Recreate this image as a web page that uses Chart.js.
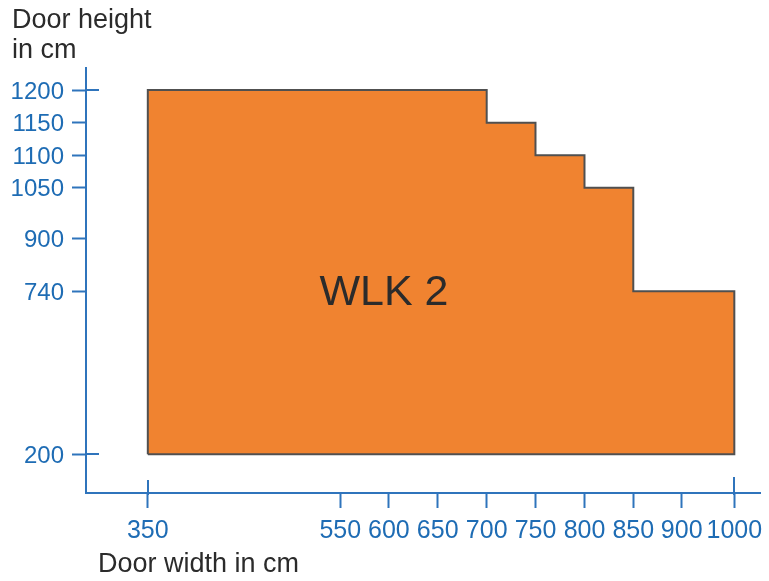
<!DOCTYPE html>
<html>
<head>
<meta charset="utf-8">
<script src="https://cdn.jsdelivr.net/npm/chart.js@4/dist/chart.umd.min.js"></script>
<style>
  html, body { margin: 0; padding: 0; background: #ffffff; }
  canvas { display: block; }
</style>
</head>
<body>
<canvas id="c" width="769" height="581"></canvas>
<script>
// ---------- data ----------
const stepWidths  = [350, 700, 750, 800, 850, 1000];   // door width band boundaries (cm)
const stepHeights = [1200, 1150, 1100, 1050, 740];      // max door height within each band (cm)
const baseHeight  = 200;                                // minimum door height (cm)
const xTickValues = [350, 550, 600, 650, 700, 750, 800, 850, 900, 1000];
const yTickValues = [200, 740, 900, 1050, 1100, 1150, 1200];
const seriesLabel = 'WLK 2';
const seriesLabelAt = { x: 595, y: 740 };
const xTitle = 'Door width in cm';
const yTitle = ['Door height', 'in cm'];

// The original axes are not drawn to scale: value -> fraction of the axis length.
const xAxisMap = [[350, 0.0917], [550, 0.3772], [600, 0.4493], [650, 0.5218], [700, 0.5945],
                  [750, 0.6669], [800, 0.7396], [850, 0.8120], [900, 0.8838], [1000, 0.9619]];
const yAxisMap = [[200, 0.0911], [740, 0.4748], [900, 0.5988], [1050, 0.7184],
                  [1100, 0.7948], [1150, 0.8713], [1200, 0.9482]];

// ---------- styles ----------
const FONT = '"Liberation Sans", Arial, Helvetica, sans-serif';
const axisColor = '#2f74bc';
const tickLabelColor = '#1e6cb4';
const textColor = '#2b2b2b';
const fillColor = '#F08330';
const edgeColor = '#505050';

// ---------- outline of the area built from the data ----------
const outline = [{ x: stepWidths[0], y: baseHeight }];
stepHeights.forEach((h, i) => {
  outline.push({ x: stepWidths[i], y: h });
  outline.push({ x: stepWidths[i + 1], y: h });
});
outline.push({ x: stepWidths[stepWidths.length - 1], y: baseHeight });
outline.push({ x: stepWidths[0], y: baseHeight });

// ---------- piecewise-linear scale ----------
const AXIS_MAPS = { x: xAxisMap, y: yAxisMap };
const AXIS_TICKS = { x: xTickValues, y: yTickValues };

class PiecewiseScale extends Chart.LinearScale {
  static id = 'piecewise';
  static defaults = {};
  _m() { return AXIS_MAPS[this.id]; }
  _toFrac(v) {
    const m = this._m();
    let i = 0;
    while (i < m.length - 2 && v > m[i + 1][0]) i++;
    const [v0, f0] = m[i], [v1, f1] = m[i + 1];
    return f0 + (v - v0) * (f1 - f0) / (v1 - v0);
  }
  _toVal(f) {
    const m = this._m();
    let i = 0;
    while (i < m.length - 2 && f > m[i + 1][1]) i++;
    const [v0, f0] = m[i], [v1, f1] = m[i + 1];
    return v0 + (f - f0) * (v1 - v0) / (f1 - f0);
  }
  determineDataLimits() {
    this.min = this._toVal(0);
    this.max = this._toVal(1);
  }
  buildTicks() {
    return AXIS_TICKS[this.id].map(v => ({ value: v }));
  }
  getPixelForValue(v) {
    return this.getPixelForDecimal(this._toFrac(v));
  }
  getValueForPixel(p) {
    return this._toVal(this.getDecimalForPixel(p));
  }
}
Chart.register(PiecewiseScale);

// ---------- overlay: axis-end cross ticks, titles, area label ----------
const overlay = {
  id: 'overlay',
  afterDraw(chart) {
    const { ctx, chartArea, scales: { x, y } } = chart;
    ctx.save();
    ctx.strokeStyle = axisColor;
    ctx.lineWidth = 2;
    ctx.lineCap = 'butt';
    const seg = (x1, y1, x2, y2) => { ctx.beginPath(); ctx.moveTo(x1, y1); ctx.lineTo(x2, y2); ctx.stroke(); };
    [yTickValues[0], yTickValues[yTickValues.length - 1]].forEach(v => {
      const py = Math.round(y.getPixelForValue(v));
      seg(chartArea.left, py, chartArea.left + 13, py);
    });
    [xTickValues[0], xTickValues[xTickValues.length - 1]].forEach((v, k) => {
      const px = Math.round(x.getPixelForValue(v));
      seg(px, chartArea.bottom - (k === 0 ? 13 : 16), px, chartArea.bottom + 2);
    });

    ctx.fillStyle = textColor;
    ctx.textAlign = 'left';
    ctx.textBaseline = 'alphabetic';
    ctx.font = '27px ' + FONT;
    ctx.fillText(yTitle[0], 12, 28);
    ctx.fillText(yTitle[1], 12, 58);
    ctx.fillText(xTitle, 98, 572);

    ctx.font = '43px ' + FONT;
    ctx.textAlign = 'center';
    ctx.textBaseline = 'middle';
    ctx.fillText(seriesLabel, x.getPixelForValue(seriesLabelAt.x), y.getPixelForValue(seriesLabelAt.y) + 2);
    ctx.restore();
  }
};

// ---------- chart ----------
new Chart(document.getElementById('c'), {
  type: 'line',
  data: {
    datasets: [{
      label: seriesLabel,
      data: outline,
      fill: 'shape',
      backgroundColor: fillColor,
      borderColor: edgeColor,
      borderWidth: 2,
      borderJoinStyle: 'miter',
      pointRadius: 0,
      pointHoverRadius: 0,
      tension: 0,
      clip: false
    }]
  },
  options: {
    responsive: false,
    animation: false,
    devicePixelRatio: 1,
    events: [],
    layout: { padding: { top: 68, right: 9, bottom: 0, left: 0 } },
    plugins: { legend: { display: false }, tooltip: { enabled: false }, title: { display: false } },
    scales: {
      x: {
        type: 'piecewise',
        position: 'bottom',
        border: { display: true, color: axisColor, width: 2 },
        grid: { display: true, drawOnChartArea: false, drawTicks: true, tickLength: 15, tickColor: axisColor, tickWidth: 2 },
        ticks: {
          autoSkip: false, maxRotation: 0, minRotation: 0, padding: 8,
          color: tickLabelColor, font: { family: FONT, size: 25 },
          callback: v => String(v)
        },
        afterFit(s) { s.height = 88; s.paddingLeft = 0; s.paddingRight = 0; }
      },
      y: {
        type: 'piecewise',
        position: 'left',
        border: { display: true, color: axisColor, width: 2 },
        grid: { display: true, drawOnChartArea: false, drawTicks: true, tickLength: 14, tickColor: axisColor, tickWidth: 2 },
        ticks: {
          autoSkip: false, padding: 8, labelOffset: 2,
          color: tickLabelColor, font: { family: FONT, size: 24 },
          callback: v => String(v)
        },
        afterFit(s) { s.width = 86; s.paddingTop = 0; s.paddingBottom = 0; }
      }
    }
  },
  plugins: [overlay]
});
</script>
</body>
</html>
